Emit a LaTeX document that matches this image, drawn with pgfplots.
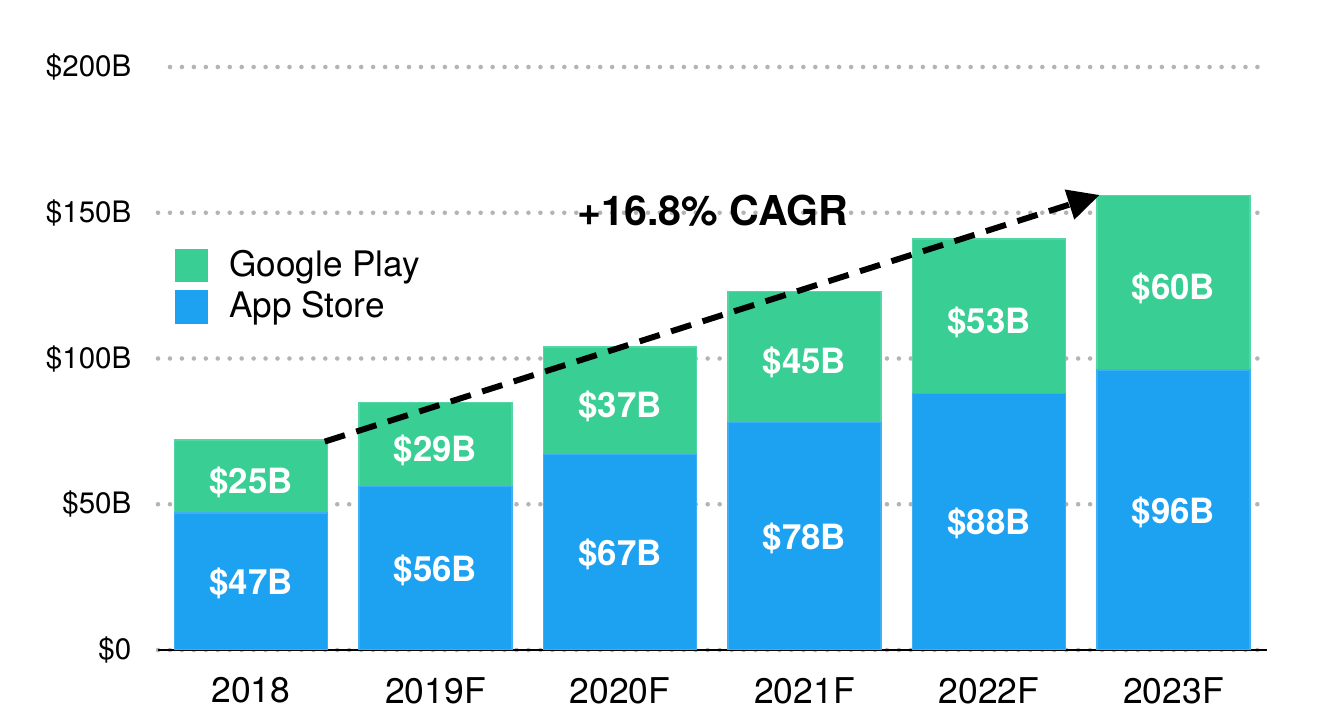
\documentclass[border=0pt]{standalone}
\usepackage{fontspec}
\setmainfont{TeX Gyre Heros}
\usepackage{pgfplots}
\pgfplotsset{compat=1.18}
\usetikzlibrary{arrows.meta}
\definecolor{gplay}{HTML}{38CE94}
\definecolor{appst}{HTML}{1DA1F1}
\definecolor{gridg}{HTML}{B4B4B4}
\begin{document}
\begin{tikzpicture}
\path[use as bounding box] (-15.8mm,-7.2mm) rectangle (117.3mm,65.0mm);
\begin{axis}[
  scale only axis,
  width=110.9mm, height=58.3mm,
  xmin=-0.504, xmax=5.507,
  ymin=0, ymax=200,
  axis x line*=bottom,
  axis y line*=left,
  y axis line style={draw=none},
  x axis line style={black, line width=0.5pt},
  major tick length=0pt,
  xtick={0,1,2,3,4,5},
  xticklabels={2018,2019F,2020F,2021F,2022F,2023F},
  ytick={0,50,100,150,200},
  yticklabels={\$0,\$50B,\$100B,\$150B,\$200B},
  xticklabel style={font=\fontsize{10.1}{12}\selectfont, anchor=north, inner sep=0pt, yshift=-2.7mm},
  yticklabel style={font=\fontsize{8.4}{10}\selectfont, anchor=east, inner sep=0pt, xshift=-2.6mm},
  ymajorgrids,
  grid style={gridg, line width=1.3pt, line cap=round, dash pattern=on 0pt off 3.4pt, shorten <=1.2mm, shorten >=0.5mm},
  legend style={at={(axis cs:-0.412,137.6)}, anchor=north west, draw=none, fill=none,
    inner sep=0pt, outer sep=0pt,
    font=\fontsize{10}{12}\selectfont, row sep=0.8mm, column sep=2.1mm,
    nodes={inner sep=0pt, outer sep=0pt, anchor=west}},
  legend cell align=left,
]
\addlegendimage{legend image code/.code={\fill[gplay] (0,-1.6mm) rectangle (3.2mm,1.6mm);}}
\addlegendentry{Google Play}
\addlegendimage{legend image code/.code={\fill[appst] (0,-1.6mm) rectangle (3.2mm,1.6mm);}}
\addlegendentry{App Store}
% Google Play bar (stacked on App Store: total height)
\addplot[ybar, bar width=0.83, fill=gplay, draw=gplay!85!white, line width=0.4pt, forget plot]
  coordinates {(0,72) (1,85) (2,104) (3,123) (4,141) (5,156)};
% App Store
\addplot[ybar, bar width=0.83, fill=appst, draw=appst!85!white, line width=0.4pt, forget plot]
  coordinates {(0,47) (1,56) (2,67) (3,78) (4,88) (5,96)};
% labels App Store
\addplot[draw=none, mark=none, forget plot, nodes near coords, point meta=explicit symbolic,
  nodes near coords align=center,
  every node near coord/.style={anchor=center, text=white, font=\fontsize{9.9}{11}\bfseries}]
  coordinates {(0,22.8)[\$47B] (1,27.3)[\$56B] (2,32.8)[\$67B] (3,38.3)[\$78B] (4,43.3)[\$88B] (5,47.3)[\$96B]};
% labels Google Play
\addplot[draw=none, mark=none, forget plot, nodes near coords, point meta=explicit symbolic,
  nodes near coords align=center,
  every node near coord/.style={anchor=center, text=white, font=\fontsize{9.9}{11}\bfseries}]
  coordinates {(0,57.5)[\$25B] (1,68.5)[\$29B] (2,83.5)[\$37B] (3,98.5)[\$45B] (4,112.5)[\$53B] (5,123.9)[\$60B]};
% CAGR arrow
\addplot[black, line width=1.7pt, forget plot, dash pattern=on 6pt off 3.4pt, -{Triangle[length=9pt,width=8.5pt]}]
  coordinates {(0.40,71.5) (4.60,156.1)};
\node[font=\fontsize{11.7}{13}\bfseries] at (axis cs:2.504,150.6) {+16.8\% CAGR};
\end{axis}
\end{tikzpicture}
\end{document}
